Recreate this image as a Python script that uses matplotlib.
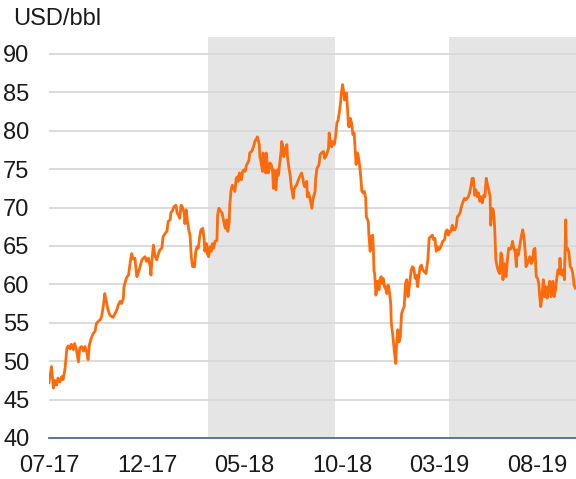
"""Brent crude price, USD/bbl, Jul 2017 - Sep 2019."""
import matplotlib
matplotlib.use("Agg")
import matplotlib.pyplot as plt
import matplotlib.dates as mdates
import pandas as pd

# ─── Data ──────────────────────────────────────────────────────────────────
START = "2017-07-01"

# days since START
day = [
    0, 4, 7, 9, 12, 14, 17, 20, 22, 25, 28, 30, 33, 35, 38, 40, 43, 46, 48, 51,
    54, 56, 59, 61, 63, 66, 69, 72, 74, 77, 80, 82, 85, 87, 89, 92, 95, 98, 100, 103,
    106, 108, 111, 113, 116, 117, 120, 122, 124, 127, 129, 131, 134, 137, 139, 142, 145, 147, 150, 152,
    155, 158, 159, 161, 163, 165, 168, 170, 173, 176, 178, 181, 184, 186, 189, 190, 192, 195, 198, 200,
    202, 204, 206, 208, 211, 212, 214, 216, 218, 220, 222, 224, 227, 229, 231, 233, 235, 237, 240, 242,
    243, 246, 247, 249, 251, 253, 255, 257, 259, 262, 263, 265, 268, 270, 273, 275, 277, 279, 281, 282,
    284, 286, 288, 290, 292, 294, 295, 297, 299, 300, 302, 304, 306, 308, 310, 312, 313, 316, 319, 321,
    324, 325, 328, 329, 331, 333, 334, 336, 338, 339, 341, 342, 345, 347, 349, 350, 351, 352, 354, 356,
    358, 359, 361, 362, 363, 365, 366, 368, 370, 371, 372, 374, 376, 378, 381, 382, 384, 386, 389, 391,
    394, 396, 397, 399, 402, 403, 405, 407, 410, 412, 415, 416, 418, 421, 423, 425, 428, 430, 433, 436,
    437, 439, 441, 442, 445, 447, 449, 451, 453, 455, 456, 458, 460, 461, 463, 464, 465, 467, 468, 470,
    472, 474, 476, 478, 479, 481, 482, 484, 486, 488, 490, 492, 494, 495, 498, 499, 501, 502, 505, 506,
    507, 508, 510, 512, 513, 515, 516, 518, 520, 521, 524, 525, 527, 529, 531, 533, 534, 536, 539, 541,
    542, 544, 546, 548, 550, 552, 554, 556, 558, 560, 562, 565, 567, 569, 571, 573, 575, 577, 579, 581,
    583, 585, 588, 591, 593, 595, 598, 600, 602, 604, 606, 608, 610, 612, 614, 617, 619, 621, 623, 625,
    627, 629, 631, 633, 635, 637, 639, 641, 644, 646, 648, 650, 652, 654, 656, 658, 660, 662, 664, 666,
    668, 670, 672, 674, 676, 678, 680, 682, 684, 686, 688, 689, 691, 693, 695, 697, 699, 701, 703, 705,
    707, 708, 710, 711, 713, 715, 717, 720, 722, 723, 725, 727, 729, 730, 732, 733, 735, 737, 739, 741,
    743, 744, 746, 748, 750, 752, 754, 756, 758, 760, 762, 764, 765, 767, 769, 771, 773, 775, 777, 779,
    781, 783, 785, 786, 788, 790, 792, 794, 796, 797, 798, 800, 802, 804, 806, 807, 809, 811, 813, 815,
    817, 819, 821,
]

brent = [
    47.2, 49.3, 46.5, 47.5, 46.9, 47.8, 47.3, 48.0, 47.6, 49.0, 51.7, 52.0, 51.6, 52.2, 51.5, 52.3, 51.4, 49.9, 51.7, 51.9,
    51.3, 51.9, 51.2, 50.2, 52.1, 53.0, 53.6, 53.9, 54.9, 55.2, 55.4, 55.8, 57.3, 58.8, 58.0, 56.7, 56.0, 55.8, 55.7, 56.2,
    56.7, 57.3, 57.8, 57.5, 58.2, 59.7, 60.6, 61.0, 61.2, 63.0, 64.0, 63.3, 63.4, 61.0, 61.4, 62.3, 63.2, 63.4, 63.6, 63.0,
    63.4, 62.3, 61.2, 63.6, 65.1, 63.8, 63.2, 63.8, 64.5, 64.7, 66.2, 66.6, 66.9, 68.2, 68.4, 69.3, 69.5, 70.1, 70.3, 69.3,
    69.0, 68.6, 70.3, 70.1, 69.3, 67.9, 69.7, 68.2, 67.1, 66.4, 63.6, 62.3, 62.3, 64.3, 64.9, 64.7, 66.2, 67.1, 67.3, 65.8,
    64.3, 65.3, 64.0, 63.6, 64.9, 64.3, 65.3, 64.7, 65.6, 65.7, 69.0, 69.9, 69.5, 69.3, 68.0, 67.3, 68.4, 66.9, 68.0, 70.3,
    72.3, 72.9, 72.5, 72.1, 73.8, 74.0, 73.4, 74.5, 74.2, 73.6, 74.7, 74.9, 74.7, 75.5, 75.8, 76.2, 77.1, 77.3, 77.9, 78.6,
    79.0, 79.2, 78.2, 76.6, 75.8, 74.7, 77.1, 76.2, 74.5, 77.1, 75.1, 74.5, 75.8, 75.5, 74.5, 72.5, 74.9, 74.0, 72.3, 74.9,
    74.2, 75.1, 76.6, 77.3, 78.6, 77.9, 76.6, 77.7, 77.1, 78.2, 76.6, 75.3, 74.3, 72.7, 71.2, 72.3, 72.7, 72.9, 73.6, 74.0,
    74.5, 73.8, 73.2, 72.7, 73.4, 71.4, 71.9, 71.2, 69.9, 71.2, 72.1, 73.8, 75.1, 75.5, 76.9, 77.1, 77.3, 76.4, 76.9, 77.7,
    79.7, 78.4, 77.9, 78.6, 78.2, 79.2, 81.0, 81.4, 82.5, 83.8, 84.9, 86.0, 84.9, 84.0, 84.4, 84.9, 83.8, 80.8, 80.5, 81.6,
    81.0, 79.5, 79.7, 77.1, 75.6, 77.1, 76.9, 75.8, 74.3, 72.1, 71.9, 72.1, 71.2, 68.8, 68.2, 66.4, 64.3, 66.2, 66.4, 64.5,
    61.7, 61.4, 58.6, 60.4, 59.5, 59.3, 60.6, 61.0, 60.1, 60.8, 59.5, 59.7, 58.8, 59.9, 59.1, 57.5, 54.9, 53.6, 51.0, 49.7,
    51.9, 54.1, 52.5, 53.2, 56.2, 56.7, 57.1, 60.1, 60.6, 58.4, 59.7, 61.9, 62.3, 62.1, 60.8, 61.2, 59.7, 61.2, 62.3, 62.5,
    61.9, 61.7, 61.4, 63.2, 66.0, 66.2, 66.4, 65.8, 66.0, 64.3, 64.9, 64.5, 64.7, 65.1, 65.6, 65.8, 66.9, 67.1, 66.4, 66.9,
    66.9, 67.7, 67.1, 67.1, 67.5, 68.8, 69.0, 69.3, 70.3, 70.8, 71.2, 71.0, 71.2, 71.4, 71.9, 72.7, 73.8, 73.8, 71.6, 72.3,
    71.4, 71.9, 70.8, 71.4, 70.6, 71.6, 71.4, 73.8, 72.9, 72.3, 71.4, 67.7, 69.9, 69.7, 67.7, 63.2, 62.3, 61.7, 61.4, 64.1,
    63.4, 60.6, 62.7, 61.4, 61.0, 63.2, 64.7, 64.6, 65.1, 65.6, 64.7, 64.3, 62.3, 64.5, 63.8, 64.3, 65.4, 66.4, 67.1, 66.0,
    64.1, 62.3, 62.7, 63.2, 63.6, 62.7, 63.0, 64.5, 64.7, 61.0, 60.8, 60.1, 58.8, 57.1, 58.4, 60.6, 58.4, 59.7, 58.2, 59.5,
    60.4, 58.4, 59.5, 60.4, 58.4, 59.3, 60.8, 61.9, 61.4, 63.4, 61.9, 61.2, 61.9, 60.6, 68.4, 64.5, 64.7, 64.1, 62.3, 62.1,
    61.4, 59.9, 59.5,
]

# shaded periods (start, end)
shade_periods = [("2018-03-06", "2018-09-20"), ("2019-03-17", "2019-10-01")]

x_range = ("2017-07-01", "2019-10-01")
x_ticks = ["2017-07-01", "2017-12-01", "2018-05-01", "2018-10-01", "2019-03-01", "2019-08-01"]
y_ticks = [40, 45, 50, 55, 60, 65, 70, 75, 80, 85, 90]

# ─── Style ─────────────────────────────────────────────────────────────────
ORANGE = "#FF6B0B"
SHADE = "#E5E5E5"
GRID = "#D9D9D9"
AXIS_BLUE = "#4A6E96"

plt.rcParams["font.family"] = ["Liberation Sans", "DejaVu Sans"]

dates = pd.Timestamp(START) + pd.to_timedelta(day, unit="D")

fig = plt.figure(figsize=(5.76, 4.79), dpi=100)
ax = fig.add_axes([0.085, 0.0856, 0.915, 0.8372])

for s, e in shade_periods:
    ax.axvspan(pd.Timestamp(s), pd.Timestamp(e), color=SHADE, lw=0, zorder=0)

ax.plot(dates, brent, color=ORANGE, lw=2.0, zorder=3, solid_joinstyle="round")

ax.set_xlim(pd.Timestamp(x_range[0]), pd.Timestamp(x_range[1]))
ax.set_ylim(40, 92.2)
ax.set_yticks(y_ticks)
ax.set_xticks([pd.Timestamp(t) for t in x_ticks])
ax.xaxis.set_major_formatter(mdates.DateFormatter("%m-%y"))

ax.grid(axis="y", color=GRID, lw=1.3, zorder=1)
ax.set_axisbelow(True)
for side in ("top", "right", "left"):
    ax.spines[side].set_visible(False)
ax.spines["bottom"].set_color(AXIS_BLUE)
ax.spines["bottom"].set_linewidth(1.3)
ax.spines["bottom"].set_zorder(4)

ax.tick_params(axis="both", length=0, labelsize=17, colors="#1A1A1A")
ax.tick_params(axis="x", pad=12)
ax.tick_params(axis="y", pad=14)

fig.text(13 / 576, 1 - 19 / 479, "USD/bbl", fontsize=17, color="#1A1A1A",
         ha="left", va="center")

fig.savefig("out.png", dpi=100)
